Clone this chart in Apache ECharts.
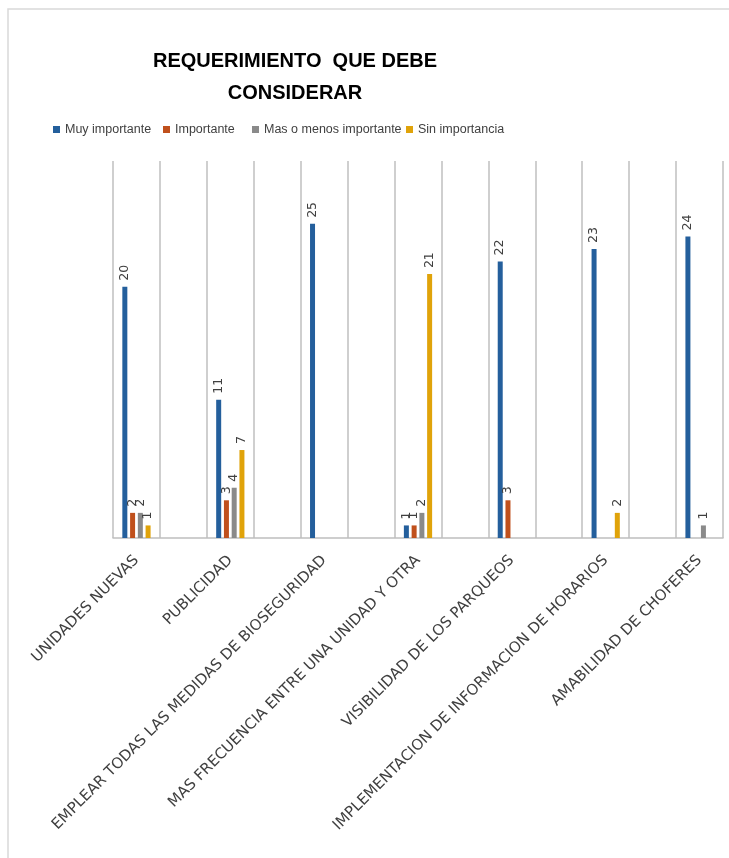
<!DOCTYPE html>
<html>
<head>
<meta charset="utf-8">
<script src="https://cdn.jsdelivr.net/npm/echarts@6/dist/echarts.min.js"></script>
<style>
  html, body { margin: 0; padding: 0; background: #fff; }
  #chart { width: 729px; height: 858px; }
</style>
</head>
<body>
<div id="chart"></div>
<script>
const categories = [
  "UNIDADES NUEVAS",
  "PUBLICIDAD",
  "EMPLEAR TODAS LAS MEDIDAS DE BIOSEGURIDAD",
  "MAS FRECUENCIA ENTRE UNA UNIDAD Y OTRA",
  "VISIBILIDAD DE LOS PARQUEOS",
  "IMPLEMENTACION DE INFORMACION DE HORARIOS",
  "AMABILIDAD DE CHOFERES"
];
const seriesNames = ["Muy importante", "Importante", "Mas o menos importante", "Sin importancia"];
const muyImportante = [20, 11, 25, 1, 22, 23, 24];
const importante = [2, 3, null, 1, 3, null, null];
const masOMenos = [2, 4, null, 2, null, null, 1];
const sinImportancia = [1, 7, null, 21, null, 2, null];

// the source sheet has an empty row between categories
function spread(arr) {
  const out = [];
  arr.forEach((v, i) => {
    out.push(v);
    if (i < arr.length - 1) out.push(null);
  });
  return out;
}
const axisCats = [];
categories.forEach((c, i) => {
  axisCats.push(c);
  if (i < categories.length - 1) axisCats.push("\u200b" + i);
});

const label = {
  show: true,
  position: "top",
  rotate: 90,
  align: "left",
  verticalAlign: "middle",
  distance: 6,
  fontFamily: "DejaVu Sans",
  fontSize: 12.5,
  color: "#404040"
};

function bar(name, data, color) {
  return {
    name: name,
    type: "bar",
    data: spread(data),
    barWidth: 5,
    barGap: "55%",
    itemStyle: { color: color },
    label: label
  };
}

const legendLeft = [48, 158, 247, 401];
const legendText = { fontFamily: "Liberation Sans", fontSize: 12.5, color: "#404040" };

const chart = echarts.init(document.getElementById("chart"));
chart.setOption({
  animation: false,
  graphic: [{
    type: "rect",
    shape: { x: 8, y: 9, width: 800, height: 900 },
    style: { fill: "none", stroke: "#d9d9d9", lineWidth: 1.5 }
  }],
  title: {
    text: "REQUERIMIENTO  QUE DEBE\nCONSIDERAR",
    left: 290,
    top: 40,
    textAlign: "center",
    textStyle: {
      fontFamily: "Liberation Sans",
      fontWeight: "bold",
      fontSize: 20,
      lineHeight: 32,
      color: "#000"
    }
  },
  legend: seriesNames.map((n, i) => ({
    data: [n],
    left: legendLeft[i],
    top: 118,
    icon: "rect",
    itemWidth: 7,
    itemHeight: 7,
    textStyle: legendText
  })),
  grid: { left: 113, right: 6, top: 161, bottom: 320 },
  xAxis: {
    type: "category",
    data: axisCats,
    axisLine: { lineStyle: { color: "#bfbfbf", width: 1.5 } },
    axisTick: { show: false },
    splitLine: { show: true, interval: 0, lineStyle: { color: "#bfbfbf", width: 1.5 } },
    axisLabel: {
      interval: 0,
      rotate: 45,
      margin: 20,
      fontFamily: "DejaVu Sans",
      fontSize: 15,
      color: "#404040",
      formatter: (v) => (v.charAt(0) === "\u200b" ? "" : v)
    }
  },
  yAxis: {
    type: "value",
    min: 0,
    max: 30,
    show: false,
    splitLine: { show: false }
  },
  series: [
    bar(seriesNames[0], muyImportante, "#245f9c"),
    bar(seriesNames[1], importante, "#c0501c"),
    bar(seriesNames[2], masOMenos, "#8a8a8a"),
    bar(seriesNames[3], sinImportancia, "#e0a30a")
  ]
});
</script>
</body>
</html>
